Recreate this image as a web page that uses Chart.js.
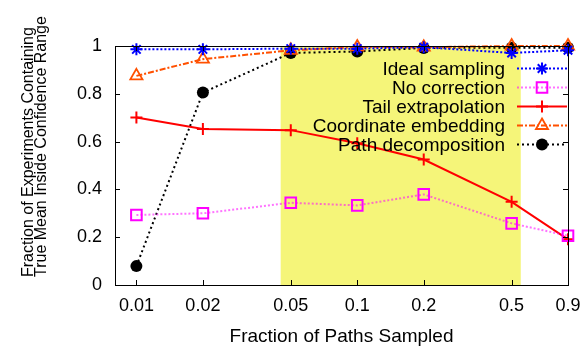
<!DOCTYPE html>
<html>
<head>
<meta charset="utf-8">
<script src="https://cdn.jsdelivr.net/npm/chart.js@4"></script>
<style>
html, body { margin: 0; padding: 0; background: #fff; }
#wrap { width: 586px; height: 348px; }
</style>
</head>
<body>
<div id="wrap"><canvas id="myChart" width="586" height="348"></canvas></div>
<script>
// x positions (fraction of paths sampled), also used as tick labels
const fractions = [0.01, 0.02, 0.05, 0.1, 0.2, 0.5, 0.9];
const yTicks = [0, 0.2, 0.4, 0.6, 0.8, 1];

const idealSampling = [0.986, 0.986, 0.989, 0.989, 0.995, 0.971, 0.982];
const noCorrection = [0.293, 0.300, 0.344, 0.333, 0.379, 0.258, 0.206];
const tailExtrapolation = [0.701, 0.653, 0.648, 0.593, 0.525, 0.348, 0.191];
const coordinateEmbedding = [0.875, 0.945, 0.982, 0.996, 0.995, 1.0, 1.0];
const pathDecomposition = [0.079, 0.805, 0.971, 0.977, 0.992, 0.993, 0.993];

const highlightRange = [0.045, 0.55];

const FONT = '"Liberation Sans", Arial, sans-serif';

const toPoints = vals => vals.map((v, i) => ({ x: fractions[i], y: v }));

const datasets = [
    {
        label: 'Ideal sampling',
        data: toPoints(idealSampling),
        borderColor: '#0000ff',
        borderWidth: 2,
        borderDash: [2, 2],
        pointStyle: 'star',
        pointRadius: 6,
        pointBorderWidth: 2,
        pointBackgroundColor: '#0000ff'
    },
    {
        label: 'No correction',
        data: toPoints(noCorrection),
        borderColor: 'rgba(255, 0, 255, 0.55)',
        borderWidth: 2,
        borderDash: [2, 2],
        pointStyle: 'rect',
        pointRadius: 7.5,
        pointBorderWidth: 2,
        pointBorderColor: '#ff00ff',
        pointBackgroundColor: 'rgba(0,0,0,0)'
    },
    {
        label: 'Tail extrapolation',
        data: toPoints(tailExtrapolation),
        borderColor: '#ff0000',
        borderWidth: 2,
        borderDash: [],
        pointStyle: 'cross',
        pointRadius: 6,
        pointBorderWidth: 2,
        pointBackgroundColor: '#ff0000'
    },
    {
        label: 'Coordinate embedding',
        data: toPoints(coordinateEmbedding),
        borderColor: '#ff5000',
        borderWidth: 2,
        borderDash: [6, 2, 2, 2],
        pointStyle: 'triangle',
        pointRadius: 7,
        pointBorderWidth: 1.8,
        pointBackgroundColor: 'rgba(0,0,0,0)'
    },
    {
        label: 'Path decomposition',
        data: toPoints(pathDecomposition),
        borderColor: '#000000',
        borderWidth: 2,
        borderDash: [2, 3],
        pointStyle: 'circle',
        pointRadius: 6,
        pointBorderWidth: 0,
        pointBackgroundColor: '#000000'
    }
];
datasets.forEach(d => { d.fill = false; d.tension = 0; d.clip = false; });

// yellow band behind the lines
const bandPlugin = {
    id: 'band',
    beforeDatasetsDraw(chart) {
        const { ctx, chartArea, scales } = chart;
        const x0 = scales.x.getPixelForValue(highlightRange[0]);
        const x1 = scales.x.getPixelForValue(highlightRange[1]);
        ctx.save();
        ctx.fillStyle = '#f5f579';
        ctx.fillRect(x0, chartArea.top, x1 - x0, chartArea.bottom - chartArea.top);
        ctx.restore();
    }
};

// gnuplot style frame with inward ticks, y title, and key
const framePlugin = {
    id: 'frame',
    afterDatasetsDraw(chart) {
        const { ctx, chartArea: a, scales } = chart;
        ctx.save();

        // key
        ctx.font = '19px ' + FONT;
        ctx.textAlign = 'right';
        ctx.textBaseline = 'middle';
        chart.data.datasets.forEach((d, i) => {
            const y = 68.5 + i * 19;
            ctx.fillStyle = '#000';
            ctx.fillText(d.label, 505, y + 1);
            ctx.strokeStyle = d.borderColor;
            ctx.lineWidth = d.borderWidth;
            ctx.setLineDash(d.borderDash);
            ctx.beginPath();
            ctx.moveTo(517, y);
            ctx.lineTo(567, y);
            ctx.stroke();
            ctx.setLineDash([]);
            ctx.strokeStyle = d.pointBorderColor || d.borderColor;
            ctx.fillStyle = d.pointBackgroundColor;
            ctx.lineWidth = d.pointBorderWidth;
            Chart.helpers.drawPoint(ctx, {
                pointStyle: d.pointStyle,
                radius: d.pointRadius,
                rotation: 0,
                borderWidth: d.pointBorderWidth
            }, 542, y);
        });

        // frame
        ctx.strokeStyle = '#000';
        ctx.lineWidth = 1;
        ctx.strokeRect(Math.round(a.left) + 0.5, Math.round(a.top) + 0.5,
            Math.round(a.right - a.left), Math.round(a.bottom - a.top));

        ctx.beginPath();
        fractions.forEach(v => {
            const x = Math.round(scales.x.getPixelForValue(v)) + 0.5;
            ctx.moveTo(x, a.bottom); ctx.lineTo(x, a.bottom - 5);
            ctx.moveTo(x, a.top); ctx.lineTo(x, a.top + 5);
        });
        yTicks.forEach(v => {
            const y = Math.round(scales.y.getPixelForValue(v)) + 0.5;
            ctx.moveTo(a.left, y); ctx.lineTo(a.left + 5, y);
            ctx.moveTo(a.right, y); ctx.lineTo(a.right - 5, y);
        });
        ctx.stroke();

        // y axis title, two lines, start aligned
        ctx.fillStyle = '#000';
        ctx.font = '16px ' + FONT;
        ctx.textAlign = 'left';
        ctx.textBaseline = 'alphabetic';
        ctx.rotate(-Math.PI / 2);
        ctx.fillText('Fraction of Experiments Containing', -277, 33);
        ctx.fillText('True Mean Inside Confidence Range', -277, 46);
        ctx.restore();
    }
};

const ctx = document.getElementById('myChart').getContext('2d');
const myChart = new Chart(ctx, {
    type: 'line',
    data: { datasets: datasets },
    plugins: [bandPlugin, framePlugin],
    options: {
        responsive: false,
        animation: false,
        layout: { padding: { left: 0, right: 18, top: 46, bottom: 0 } },
        plugins: {
            legend: { display: false },
            tooltip: { enabled: false }
        },
        scales: {
            x: {
                type: 'logarithmic',
                min: 0.008,
                max: 0.9,
                grid: { display: false, drawTicks: false },
                border: { display: false },
                afterBuildTicks: scale => { scale.ticks = fractions.map(v => ({ value: v })); },
                afterFit: scale => {
                    scale.height = 63;
                    scale.paddingLeft = 0;
                    scale.paddingRight = 0;
                },
                ticks: {
                    autoSkip: false,
                    maxRotation: 0,
                    padding: 10,
                    color: '#000',
                    font: { family: FONT, size: 18 },
                    callback: v => String(v)
                },
                title: {
                    display: true,
                    text: 'Fraction of Paths Sampled',
                    color: '#000',
                    font: { family: FONT, size: 19 },
                    padding: { top: 0, bottom: 0 }
                }
            },
            y: {
                min: 0,
                max: 1,
                grid: { display: false, drawTicks: false },
                border: { display: false },
                afterBuildTicks: scale => { scale.ticks = yTicks.map(v => ({ value: v })); },
                afterFit: scale => { scale.width = 115; },
                ticks: {
                    padding: 13,
                    color: '#000',
                    font: { family: FONT, size: 18 },
                    callback: v => String(v)
                }
            }
        }
    }
});
</script>
</body>
</html>
